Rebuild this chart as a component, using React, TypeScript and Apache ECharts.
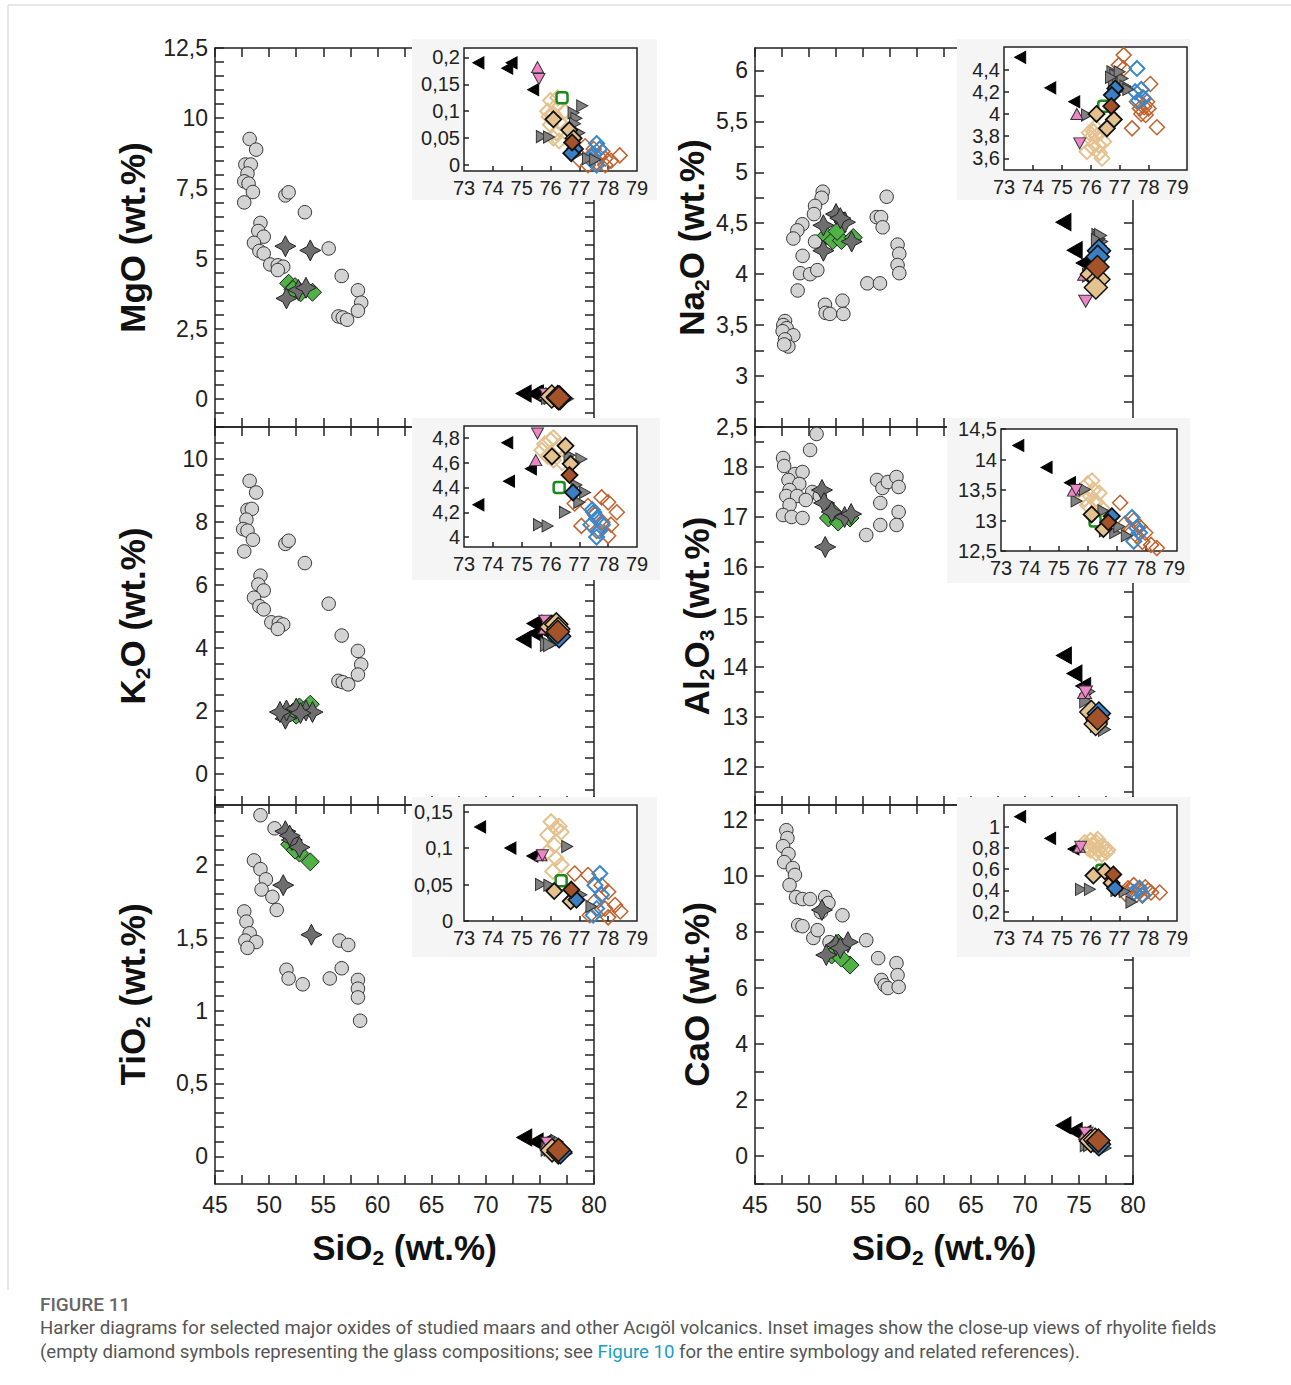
import React, { useEffect, useRef } from "react";
import * as echarts from "echarts";

const FONT = "'Liberation Sans', Arial, sans-serif";
const AX = "#222";

// ---------- axis tick labels ----------
const X_LABELS = [45, 50, 55, 60, 65, 70, 75, 80];
const INSET_X_LABELS = [73, 74, 75, 76, 77, 78, 79];
const MGO_Y_LABELS = [0, 2.5, 5, 7.5, 10, 12.5];
const K2O_Y_LABELS = [0, 2, 4, 6, 8, 10];
const TIO2_Y_LABELS = [0, 0.5, 1, 1.5, 2];
const NA2O_Y_LABELS = [2.5, 3, 3.5, 4, 4.5, 5, 5.5, 6];
const AL2O3_Y_LABELS = [12, 13, 14, 15, 16, 17, 18];
const CAO_Y_LABELS = [0, 2, 4, 6, 8, 10, 12];
const MGO_INSET_Y = [0, 0.05, 0.1, 0.15, 0.2];
const NA2O_INSET_Y = [3.6, 3.8, 4, 4.2, 4.4];
const K2O_INSET_Y = [4, 4.2, 4.4, 4.6, 4.8];
const AL2O3_INSET_Y = [12.5, 13, 13.5, 14, 14.5];
const TIO2_INSET_Y = [0, 0.05, 0.1, 0.15];
const CAO_INSET_Y = [0.2, 0.4, 0.6, 0.8, 1];

// ---------- main-panel data: [SiO2, oxide] ----------
const mgoCircles = [[48.2,9.26],[48.8,8.88],[47.8,8.35],[48.3,8.35],[48.0,8.03],[47.7,7.75],[48.1,7.67],[48.5,7.37],[47.7,7.0],[49.2,6.27],[49.0,5.98],[49.5,5.78],[48.6,5.56],[49.1,5.27],[49.5,5.18],[50.1,4.79],[50.8,4.76],[51.3,4.71],[50.8,4.59],[51.5,7.25],[51.8,7.36],[53.3,6.65],[55.5,5.36],[56.7,4.38],[58.2,3.87],[58.5,3.43],[58.2,3.14],[56.4,2.94],[56.8,2.9],[57.2,2.82]];
const mgoStars = [[51.5,5.44],[53.8,5.29],[51.6,3.58],[52.7,3.88],[53.4,3.96]];
const mgoGreen = [[51.8,4.12],[52.4,4.0],[52.9,3.78],[54.0,3.8],[52.2,3.9]];

const k2oCircles = [[48.2,9.29],[48.8,8.92],[48.0,8.37],[48.4,8.4],[47.9,8.06],[47.6,7.76],[48.0,7.71],[48.5,7.42],[47.7,7.05],[49.2,6.28],[49.0,6.0],[49.5,5.81],[48.6,5.58],[49.1,5.31],[49.5,5.21],[50.2,4.8],[50.9,4.78],[51.3,4.73],[50.8,4.59],[51.5,7.29],[51.8,7.39],[53.3,6.68],[55.5,5.39],[56.7,4.38],[58.2,3.89],[58.5,3.46],[58.2,3.14],[56.4,2.94],[56.8,2.9],[57.3,2.83]];
const k2oStars = [[51.5,1.74],[51.6,2.0],[52.5,2.06],[53.4,2.0],[54.0,1.95],[51.0,1.95],[52.9,1.92]];
const k2oGreen = [[52.2,1.95],[52.8,2.11],[53.8,2.2],[52.5,1.85]];

const tio2Circles = [[49.2,2.34],[50.5,2.25],[48.6,2.03],[49.2,1.97],[49.7,1.9],[49.3,1.83],[50.3,1.78],[50.7,1.69],[47.7,1.68],[47.9,1.61],[48.2,1.53],[47.8,1.48],[48.8,1.47],[48.0,1.43],[51.6,1.28],[51.8,1.22],[53.1,1.18],[55.6,1.22],[56.7,1.29],[56.5,1.48],[57.3,1.45],[58.2,1.21],[58.2,1.15],[58.2,1.09],[58.4,0.93]];
const tio2Stars = [[51.3,1.86],[53.9,1.52],[51.5,2.23],[52.1,2.17],[52.8,2.12],[51.9,2.2]];
const tio2Green = [[51.9,2.14],[52.8,2.08],[53.8,2.02],[52.4,2.1]];

const na2oCircles = [[51.27,4.81],[51.17,4.75],[50.56,4.67],[50.46,4.59],[49.38,4.49],[48.92,4.43],[48.55,4.35],[50.56,4.32],[49.41,4.18],[49.17,4.01],[50.1,4.0],[50.77,4.04],[48.95,3.84],[51.48,3.7],[51.54,3.62],[51.94,3.61],[53.1,3.74],[53.18,3.61],[47.78,3.54],[47.62,3.5],[47.93,3.47],[47.56,3.44],[48.55,3.4],[47.78,3.36],[48.09,3.29],[47.7,3.31],[57.19,4.76],[56.27,4.56],[56.67,4.56],[56.82,4.46],[58.2,4.29],[58.36,4.2],[58.2,4.09],[58.36,4.01],[55.4,3.91],[56.57,3.91]];
const na2oStars = [[52.5,4.59],[51.33,4.48],[53.33,4.51],[53.95,4.32],[51.33,4.23],[52.9,4.55]];
const na2oGreen = [[51.6,4.38],[52.2,4.33],[53.0,4.33],[54.1,4.36],[52.6,4.42]];

const al2o3Circles = [[50.7,18.66],[47.6,18.18],[47.7,18.02],[48.7,17.86],[49.4,17.9],[48.1,17.74],[49.1,17.66],[48.2,17.54],[47.9,17.42],[48.9,17.42],[50.1,18.34],[50.3,17.5],[48.2,17.24],[47.6,17.04],[48.4,17.0],[49.4,16.98],[49.7,17.34],[51.0,17.42],[56.3,17.74],[56.8,17.58],[57.3,17.7],[56.6,17.28],[58.1,17.8],[58.3,17.6],[58.3,17.1],[58.1,16.84],[56.6,16.84],[55.3,16.64]];
const al2o3Stars = [[51.2,17.54],[51.4,17.28],[52.1,17.1],[53.3,17.0],[51.5,16.4],[53.9,17.06]];
const al2o3Green = [[51.8,16.98],[52.7,16.9],[53.8,16.98],[52.2,17.1]];

const caoCircles = [[47.9,11.64],[48.0,11.36],[47.6,11.07],[48.1,10.79],[47.7,10.5],[48.5,10.29],[48.7,10.04],[48.2,9.68],[48.8,9.25],[49.4,9.18],[50.1,9.18],[51.5,9.25],[51.8,9.04],[51.1,8.71],[49.0,8.25],[49.4,8.21],[50.4,7.79],[51.9,7.64],[53.1,8.6],[55.3,7.71],[56.4,7.07],[58.1,6.89],[56.7,6.29],[57.0,6.1],[57.3,6.0],[58.2,6.46],[58.3,6.04],[50.8,8.07]];
const caoStars = [[51.2,8.79],[52.5,7.54],[53.6,7.64],[51.6,7.18],[52.9,7.43]];
const caoGreen = [[52.7,7.6],[52.1,7.18],[53.8,6.82],[53.0,7.07]];

// ---------- rhyolite data (insets; filled ones also in main panels) ----------
const mgoBlack = [[73.5,0.19],[74.5,0.18],[74.65,0.19],[75.4,0.14]];
const mgoGray = [[77.1,0.11],[76.8,0.097],[76.9,0.087],[76.85,0.077],[75.7,0.053],[75.95,0.052],[77.3,0.012],[77.55,0.01],[76.9,0.02],[77.0,0.06]];
const mgoPinkUp = [[75.55,0.182]];
const mgoPinkDown = [[75.6,0.16]];
const mgoGreenSq = [[76.4,0.125]];
const mgoTan = [[76.1,0.085],[76.65,0.065],[76.8,0.05]];
const mgoBrown = [[76.75,0.042]];
const mgoBlue = [[76.85,0.03],[76.72,0.022]];
const mgoTanH = [[76.0,0.12],[76.2,0.11],[75.9,0.1],[76.1,0.095],[76.3,0.08],[76.0,0.075],[76.2,0.06],[76.1,0.05],[76.3,0.045],[76.5,0.1],[75.95,0.09],[76.25,0.125]];
const mgoBrownH = [[77.2,0.035],[77.5,0.03],[77.8,0.025],[78.4,0.018],[77.4,0.015],[77.9,0.012],[78.1,0.008],[77.6,0.005],[77.0,0.01],[77.3,0.0],[77.9,0.0],[77.7,0.015]];
const mgoBlueH = [[77.6,0.04],[77.7,0.03],[77.5,0.02],[77.4,0.01],[77.6,0.0]];

const naBlack = [[73.56,4.51],[74.6,4.235],[75.43,4.11]];
const naGray = [[75.87,3.99],[76.75,4.38],[76.85,4.35],[76.8,4.3],[76.95,4.28],[77.1,4.32],[77.2,4.25],[76.9,4.2],[77.3,4.22],[77.0,4.38],[76.7,4.33]];
const naPinkUp = [[75.52,4.0]];
const naPinkDown = [[75.62,3.735]];
const naGreenSq = [[76.45,4.07]];
const naTan = [[76.2,4.0],[76.8,3.95],[76.56,3.87]];
const naBrown = [[76.71,4.07]];
const naBlue = [[76.85,4.23],[76.73,4.17]];
const naTanH = [[76.1,3.84],[75.99,3.78],[76.27,3.72],[75.87,3.66],[76.39,3.6],[76.2,3.8],[76.45,3.75],[76.05,3.7],[76.3,3.65],[76.15,3.88],[75.95,3.83]];
const naBrownH = [[77.14,4.53],[77.14,4.41],[76.97,4.44],[78.06,4.27],[77.95,4.11],[77.43,3.87],[78.29,3.88],[77.9,3.99],[77.6,4.11],[77.8,4.15],[77.7,4.05],[77.85,4.06],[78.0,4.05],[77.75,4.0]];
const naBlueH = [[77.6,4.41],[77.54,4.2],[77.83,4.14],[77.65,4.12],[77.75,4.22]];

const kBlack = [[73.5,4.26],[74.5,4.76],[74.56,4.45],[75.32,4.55]];
const kGray = [[76.66,4.66],[77.07,4.63],[76.9,4.42],[77.2,4.36],[77.0,4.28],[76.5,4.2],[75.6,4.1],[75.9,4.09],[76.85,4.6]];
const kPinkUp = [[75.49,4.62]];
const kPinkDown = [[75.55,4.835]];
const kGreenSq = [[76.3,4.4]];
const kTan = [[76.05,4.65],[76.52,4.735],[76.7,4.59]];
const kBrown = [[76.66,4.5]];
const kBlue = [[76.78,4.36]];
const kTanH = [[75.8,4.75],[76.0,4.78],[76.2,4.7],[75.9,4.65],[76.1,4.62],[76.3,4.73],[76.4,4.6],[75.7,4.7],[76.1,4.8]];
const kBrownH = [[76.84,4.27],[77.77,4.32],[78.0,4.28],[78.3,4.2],[77.07,4.09],[77.54,4.18],[78.0,4.01],[77.3,4.25],[77.8,4.12],[78.1,4.1],[77.6,4.05]];
const kBlueH = [[77.5,4.2],[77.6,4.15],[77.4,4.1],[77.7,4.05],[77.6,4.0],[77.8,4.1],[77.45,4.22]];

const alBlack = [[73.6,14.23],[74.58,13.87],[75.39,13.62]];
const alGray = [[75.91,13.51],[75.62,13.32],[76.55,13.16],[76.6,12.83],[76.96,12.8],[77.36,12.75],[77.1,12.9]];
const alPinkUp = [[75.51,13.49]];
const alPinkDown = [[75.6,13.5]];
const alGreenSq = [[76.26,12.99]];
const alTan = [[76.14,13.1],[76.55,12.86]];
const alBrown = [[76.72,12.97]];
const alBlue = [[76.84,13.07]];
const alTanH = [[76.0,13.6],[76.2,13.5],[76.1,13.4],[76.3,13.3],[75.9,13.35],[76.4,13.45],[76.5,13.2],[76.0,13.25],[76.15,13.65]];
const alBrownH = [[77.13,13.29],[77.6,13.0],[77.8,12.9],[78.0,12.8],[77.7,12.75],[77.9,12.65],[78.2,12.6],[78.4,12.55],[77.5,12.85],[77.3,12.95]];
const alBlueH = [[77.54,13.05],[77.7,12.88],[77.6,12.66],[77.8,12.8]];

const tiBlack = [[73.56,0.129],[74.61,0.1],[75.37,0.089]];
const tiGray = [[76.58,0.102],[75.67,0.05],[75.96,0.049],[77.42,0.02],[77.07,0.036]];
const tiPinkUp = [[75.67,0.09]];
const tiPinkDown = [[75.72,0.09]];
const tiGreenSq = [[76.37,0.055]];
const tiTan = [[76.13,0.041],[76.7,0.027]];
const tiBrown = [[76.72,0.043]];
const tiBlue = [[76.9,0.029]];
const tiTanH = [[76.02,0.136],[76.19,0.127],[76.37,0.122],[75.9,0.118],[76.13,0.104],[75.9,0.095],[76.19,0.086],[76.37,0.077],[76.08,0.068],[76.3,0.13]];
const tiBrownH = [[76.84,0.065],[77.3,0.063],[77.77,0.049],[78.0,0.04],[78.24,0.022],[78.42,0.013],[77.54,0.027],[77.89,0.017],[77.36,0.008],[78.0,0.005]];
const tiBlueH = [[77.71,0.065],[77.54,0.049],[77.77,0.036],[77.6,0.017],[77.48,0.008]];

const caBlack = [[73.56,1.094],[74.6,0.89],[75.41,0.79]];
const caGray = [[75.67,0.41],[75.98,0.41],[77.19,0.39],[77.42,0.29],[76.9,0.4]];
const caPinkUp = [[75.61,0.81]];
const caPinkDown = [[75.66,0.81]];
const caGreenSq = [[76.39,0.59]];
const caTan = [[76.1,0.54],[76.5,0.58],[76.73,0.47]];
const caBrown = [[76.79,0.55]];
const caBlue = [[76.85,0.42]];
const caTanH = [[75.8,0.85],[76.0,0.87],[76.2,0.85],[76.4,0.82],[76.6,0.78],[76.0,0.78],[76.2,0.75],[76.4,0.74],[75.9,0.8],[76.5,0.8],[76.1,0.82],[76.3,0.79],[75.85,0.82],[76.55,0.76],[76.25,0.88]];
const caBrownH = [[77.3,0.42],[77.5,0.45],[77.7,0.4],[77.9,0.43],[78.1,0.38],[78.4,0.38],[77.6,0.36],[77.8,0.35],[77.2,0.37],[78.0,0.4],[77.4,0.4]];
const caBlueH = [[77.5,0.38],[77.7,0.42],[77.8,0.36]];

// ---------- symbols & colours ----------
const STAR = "path://M10,0 L13.4,6.6 L20,10 L13.4,13.4 L10,20 L6.6,13.4 L0,10 L6.6,6.6 Z";
const TRI_LEFT = "path://M0,5 L9,0 L9,10 Z";
const TRI_RIGHT = "path://M0,0 L9,5 L0,10 Z";
const TRI_UP = "path://M5,0 L10,9 L0,9 Z";
const TRI_DOWN = "path://M0,0 L10,0 L5,9 Z";
const C_TAN = "#e4c28f";
const C_BROWN = "#a3522a";
const C_BLUE = "#3a7fc3";
const C_BROWN_H = "#c0622e";
const C_BLUE_H = "#3a88cc";
const C_PINK = "#ef85c6";
const C_GREEN = "#4fb146";

function steps(a: number, b: number, s: number) {
  const out: number[] = [];
  for (let v = a; v <= b + 1e-9; v += s) out.push(Math.round(v * 1e6) / 1e6);
  return out;
}
const fmt = (v: number) => String(Math.round(v * 1e6) / 1e6).replace(".", ",");

const L = { left: 215, width: 379 };
const R = { left: 755, width: 378 };
const ROWS = [{ top: 48, height: 379 }, { top: 427, height: 378 }, { top: 805, height: 379 }];

const PANELS = [
  { col: L, row: 0, title: ["MgO", "", ""], yMin: -1, yMax: 12.5, yLabels: MGO_Y_LABELS, yTicks: steps(-1, 12.5, 0.5),
    circles: mgoCircles, stars: mgoStars, green: mgoGreen,
    rhy: { black: mgoBlack, gray: mgoGray, pu: mgoPinkUp, pd: mgoPinkDown, gs: mgoGreenSq, tan: mgoTan, brown: mgoBrown, blue: mgoBlue, tanH: mgoTanH, brownH: mgoBrownH, blueH: mgoBlueH },
    inset: { left: 464, top: 48, width: 173, height: 123, xMax: 79, yMin: -0.011, yMax: 0.2175, yLabels: MGO_INSET_Y, yMargin: 4, bg: [412, 39, 245, 161] } },
  { col: R, row: 0, title: ["Na", "2", "O"], yMin: 2.5, yMax: 6.22, yLabels: NA2O_Y_LABELS, yTicks: steps(2.5, 6, 0.25),
    circles: na2oCircles, stars: na2oStars, green: na2oGreen,
    rhy: { black: naBlack, gray: naGray, pu: naPinkUp, pd: naPinkDown, gs: naGreenSq, tan: naTan, brown: naBrown, blue: naBlue, tanH: naTanH, brownH: naBrownH, blueH: naBlueH },
    inset: { left: 1004, top: 47, width: 183, height: 123, xMax: 79.33, yMin: 3.495, yMax: 4.603, yLabels: NA2O_INSET_Y, yMargin: 4, bg: [957, 39, 233, 161] } },
  { col: L, row: 1, title: ["K", "2", "O"], yMin: -1, yMax: 11, yLabels: K2O_Y_LABELS, yTicks: steps(-1, 11, 0.5),
    circles: k2oCircles, stars: k2oStars, green: k2oGreen,
    rhy: { black: kBlack, gray: kGray, pu: kPinkUp, pd: kPinkDown, gs: kGreenSq, tan: kTan, brown: kBrown, blue: kBlue, tanH: kTanH, brownH: kBrownH, blueH: kBlueH },
    inset: { left: 464, top: 426, width: 173, height: 121, xMax: 79, yMin: 3.92, yMax: 4.895, yLabels: K2O_INSET_Y, yMargin: 4, bg: [412, 418, 248, 162] } },
  { col: R, row: 1, title: ["Al", "2", "O", "3"], yMin: 11.24, yMax: 18.8, yLabels: AL2O3_Y_LABELS, yTicks: steps(11.5, 18.5, 0.5),
    circles: al2o3Circles, stars: al2o3Stars, green: al2o3Green,
    rhy: { black: alBlack, gray: alGray, pu: alPinkUp, pd: alPinkDown, gs: alGreenSq, tan: alTan, brown: alBrown, blue: alBlue, tanH: alTanH, brownH: alBrownH, blueH: alBlueH },
    inset: { left: 1001, top: 429, width: 176, height: 122, xMax: 79.1, yMin: 12.5, yMax: 14.5, yLabels: AL2O3_INSET_Y, yMargin: 4, bg: [947, 418, 243, 165] } },
  { col: L, row: 2, title: ["TiO", "2", ""], yMin: -0.19, yMax: 2.41, yLabels: TIO2_Y_LABELS, yTicks: steps(-0.1, 2.4, 0.1),
    circles: tio2Circles, stars: tio2Stars, green: tio2Green,
    rhy: { black: tiBlack, gray: tiGray, pu: tiPinkUp, pd: tiPinkDown, gs: tiGreenSq, tan: tiTan, brown: tiBrown, blue: tiBlue, tanH: tiTanH, brownH: tiBrownH, blueH: tiBlueH },
    inset: { left: 464, top: 805, width: 173, height: 116, xMax: 79, yMin: 0, yMax: 0.159, yLabels: TIO2_INSET_Y, yMargin: 11, bg: [412, 797, 245, 160] } },
  { col: R, row: 2, title: ["CaO", "", ""], yMin: -1, yMax: 12.54, yLabels: CAO_Y_LABELS, yTicks: steps(-1, 12, 1),
    circles: caoCircles, stars: caoStars, green: caoGreen,
    rhy: { black: caBlack, gray: caGray, pu: caPinkUp, pd: caPinkDown, gs: caGreenSq, tan: caTan, brown: caBrown, blue: caBlue, tanH: caTanH, brownH: caBrownH, blueH: caBlueH },
    inset: { left: 1004, top: 805, width: 173, height: 116, xMax: 79, yMin: 0.112, yMax: 1.204, yLabels: CAO_INSET_Y, yMargin: 4, bg: [957, 797, 233, 160] } },
];

const RICH = {
  a: { fontSize: 35, fontWeight: "bold", fontFamily: FONT, color: "#111", lineHeight: 42 },
  s: { fontSize: 21, fontWeight: "bold", fontFamily: FONT, color: "#111", lineHeight: 19, verticalAlign: "bottom" },
};

function titleText(parts: string[]) {
  let t = "";
  parts.forEach((p, i) => {
    if (!p) return;
    t += i % 2 === 0 ? `{a|${p}}` : `{s|${p}}`;
  });
  return t + "{a| (wt.%)}";
}

function sc(data: number[][], xi: number, yi: number, symbol: string, size: number | number[], fill: string, stroke: string, bw: number, z: number) {
  return {
    type: "scatter", xAxisIndex: xi, yAxisIndex: yi, data, symbol, symbolSize: size, z, silent: true,
    itemStyle: { color: fill, borderColor: stroke, borderWidth: bw, opacity: 1 },
    emphasis: { disabled: true },
  };
}

function buildOption() {
  const grid: any[] = [], xAxis: any[] = [], yAxis: any[] = [], series: any[] = [], graphic: any[] = [];
  const lineStyle = { color: AX, width: 1.5 };
  const mainLabel = { color: "#222", fontSize: 23, fontFamily: FONT, hideOverlap: false };
  const insetLabel = { color: "#222", fontSize: 20, fontFamily: FONT, hideOverlap: false };

  PANELS.forEach((p) => {
    const row = ROWS[p.row];
    const gi = grid.length;
    grid.push({ left: p.col.left, top: row.top, width: p.col.width, height: row.height, containLabel: false, outerBoundsMode: "none" });
    const xi = xAxis.length;
    const bottomRow = p.row === 2;
    ["bottom", "top"].forEach((pos) => {
      xAxis.push({
        type: "value", gridIndex: gi, position: pos, min: 45, max: 80, z: 0,
        axisLine: { show: true, onZero: false, lineStyle },
        axisTick: { show: true, inside: true, length: 9, customValues: steps(45, 80, 2.5), lineStyle },
        axisLabel: { ...mainLabel, show: pos === "bottom" && bottomRow, customValues: X_LABELS, margin: 9 },
        splitLine: { show: false },
        name: pos === "bottom" && bottomRow ? titleText(["SiO", "2", ""]) : "",
        nameLocation: "middle", nameGap: 42, nameTextStyle: { rich: RICH },
      });
    });
    const yi = yAxis.length;
    const isLeftCol = p.col === L;
    ["left", "right"].forEach((pos) => {
      yAxis.push({
        type: "value", gridIndex: gi, position: pos, min: p.yMin, max: p.yMax, z: 0,
        axisLine: { show: true, onZero: false, lineStyle },
        axisTick: { show: true, inside: true, length: 9, customValues: p.yTicks, lineStyle },
        axisLabel: { ...mainLabel, show: pos === "left", customValues: p.yLabels, margin: 7, formatter: fmt },
        splitLine: { show: false },
        name: pos === "left" ? titleText(p.title) : "",
        nameLocation: "middle", nameRotate: 90, nameGap: isLeftCol ? 62 : 38, nameTextStyle: { rich: RICH },
      });
    });
    // main series
    const r = p.rhy;
    series.push(sc(p.circles, xi, yi, "circle", 13.5, "#d3d3d3", "#333", 1, 2));
    series.push(sc(p.green, xi, yi, "diamond", 18, C_GREEN, "#1a1a1a", 1, 2));
    series.push(sc(p.stars, xi, yi, STAR, 21, "#6e6e6e", "#222", 1, 2));
    series.push(sc(r.black, xi, yi, TRI_LEFT, [15, 17], "#000", "#000", 1, 2));
    series.push(sc(r.gray, xi, yi, TRI_RIGHT, [12, 14], "#808080", "#333", 1, 2));
    series.push(sc(r.pu, xi, yi, TRI_UP, [14, 12], C_PINK, "#333", 1, 2));
    series.push(sc(r.pd, xi, yi, TRI_DOWN, [14, 12], C_PINK, "#333", 1, 2));
    series.push(sc(r.gs, xi, yi, "circle", 14, "#1a8a1a", "#111", 1, 2));
    series.push(sc(r.tan, xi, yi, "diamond", 23, C_TAN, "#111", 1.5, 2));
    series.push(sc(r.blue, xi, yi, "diamond", 23, C_BLUE, "#111", 1.5, 2));
    series.push(sc(r.brown, xi, yi, "diamond", 23, C_BROWN, "#111", 1.5, 2));

    // inset background
    const [bx, by, bw, bh] = p.inset.bg;
    graphic.push({ type: "rect", z: 3, shape: { x: bx, y: by, width: bw, height: bh }, style: { fill: "#f5f5f5" }, silent: true });
    const ins = p.inset;
    const ig = grid.length;
    grid.push({ left: ins.left, top: ins.top, width: ins.width, height: ins.height, show: true, backgroundColor: "#fff", borderColor: AX, borderWidth: 1.5, z: 4, containLabel: false, outerBoundsMode: "none" });
    const ixi = xAxis.length;
    xAxis.push({
      type: "value", gridIndex: ig, position: "bottom", min: 73, max: ins.xMax, z: 5,
      axisLine: { show: false, onZero: false },
      axisTick: { show: true, inside: true, length: 5, customValues: [74, 75, 76, 77, 78], lineStyle },
      axisLabel: { ...insetLabel, customValues: INSET_X_LABELS, margin: 7 },
      splitLine: { show: false },
    });
    const iyi = yAxis.length;
    yAxis.push({
      type: "value", gridIndex: ig, position: "left", min: ins.yMin, max: ins.yMax, z: 5,
      axisLine: { show: false, onZero: false },
      axisTick: { show: true, inside: true, length: 5, customValues: ins.yLabels, lineStyle },
      axisLabel: { ...insetLabel, customValues: ins.yLabels, margin: ins.yMargin, formatter: fmt },
      splitLine: { show: false },
    });
    const T = "rgba(255,255,255,0)";
    series.push(sc(r.tanH, ixi, iyi, "diamond", 15, T, C_TAN, 2, 6));
    series.push(sc(r.brownH, ixi, iyi, "diamond", 15, T, C_BROWN_H, 1.5, 6));
    series.push(sc(r.blueH, ixi, iyi, "diamond", 15, T, C_BLUE_H, 2, 6));
    series.push(sc(r.gray, ixi, iyi, TRI_RIGHT, [11, 12], "#808080", "#333", 1, 7));
    series.push(sc(r.black, ixi, iyi, TRI_LEFT, [11, 12], "#000", "#000", 1, 7));
    series.push(sc(r.pu, ixi, iyi, TRI_UP, [12, 11], C_PINK, "#333", 1, 7));
    series.push(sc(r.pd, ixi, iyi, TRI_DOWN, [12, 11], C_PINK, "#333", 1, 7));
    series.push(sc(r.gs, ixi, iyi, "roundRect", 11, "#fff", "#1a8a1a", 2.5, 7));
    series.push(sc(r.tan, ixi, iyi, "diamond", 16, C_TAN, "#111", 1.8, 8));
    series.push(sc(r.blue, ixi, iyi, "diamond", 16, C_BLUE, "#111", 1.8, 8));
    series.push(sc(r.brown, ixi, iyi, "diamond", 16, C_BROWN, "#111", 1.8, 8));
  });

  // frame lines of the figure card
  graphic.push({ type: "line", z: 1, shape: { x1: 8, y1: 5, x2: 1291, y2: 5 }, style: { stroke: "#d0d0d0", lineWidth: 1 } });
  graphic.push({ type: "line", z: 1, shape: { x1: 8, y1: 5, x2: 8, y2: 1290 }, style: { stroke: "#d0d0d0", lineWidth: 1 } });

  // caption
  const CAP = "Roboto, 'Liberation Sans', sans-serif";
  graphic.push({ type: "text", z: 1, x: 40, y: 1304, style: { text: "FIGURE 11", font: `500 19px ${CAP}`, fill: "#666", verticalAlign: "middle" } });
  graphic.push({ type: "text", z: 1, x: 40, y: 1328, style: { text: "Harker diagrams for selected major oxides of studied maars and other Acıgöl volcanics. Inset images show the close-up views of rhyolite fields", font: `18.6px ${CAP}`, fill: "#555", verticalAlign: "middle" } });
  graphic.push({ type: "text", z: 1, x: 40, y: 1352, style: {
    text: "{a|(empty diamond symbols representing the glass compositions; see }{b|Figure 10}{a| for the entire symbology and related references).}",
    font: `18.6px ${CAP}`, verticalAlign: "middle",
    rich: { a: { fill: "#555", color: "#555", font: `18.6px ${CAP}` }, b: { fill: "#1b9dc2", color: "#1b9dc2", font: `18.6px ${CAP}` } },
  } });

  return { animation: false, backgroundColor: "#fff", grid, xAxis, yAxis, series, graphic };
}

export default function App() {
  const ref = useRef<HTMLDivElement>(null);
  useEffect(() => {
    const chart = echarts.init(ref.current!, null, { renderer: "svg" });
    chart.setOption(buildOption() as any);
    return () => chart.dispose();
  }, []);
  return <div ref={ref} style={{ position: "absolute", left: 0, top: 0, width: 1291, height: 1385, background: "#fff" }} />;
}
